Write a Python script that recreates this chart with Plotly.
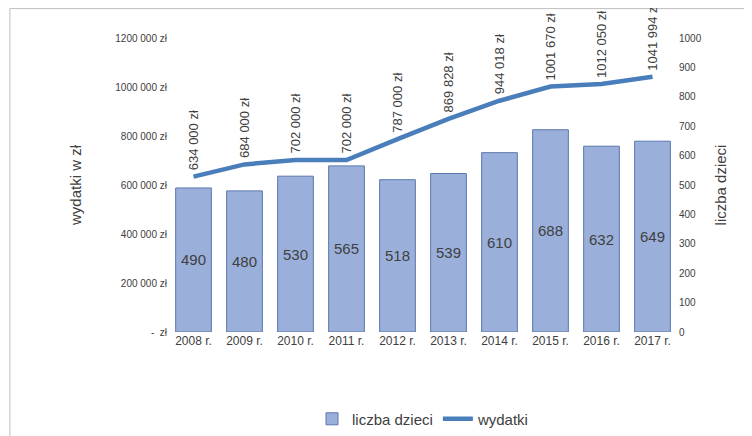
import plotly.graph_objects as go

years = ["2008 r.", "2009 r.", "2010 r.", "2011 r.", "2012 r.", "2013 r.", "2014 r.", "2015 r.", "2016 r.", "2017 r."]
children = [490, 480, 530, 565, 518, 539, 610, 688, 632, 649]
spend = [634000, 684000, 702000, 702000, 787000, 869828, 944018, 1001670, 1012050, 1041994]
spend_labels = ["634 000 zł", "684 000 zł", "702 000 zł", "702 000 zł", "787 000 zł", "869 828 zł",
                "944 018 zł", "1001 670 zł", "1012 050 zł", "1041 994 zł"]
left_ticks = [0, 200000, 400000, 600000, 800000, 1000000, 1200000]
left_text = ["-  zł", "200 000 zł", "400 000 zł", "600 000 zł", "800 000 zł", "1000 000 zł", "1200 000 zł"]
right_ticks = list(range(0, 1001, 100))

fig = go.Figure()
fig.add_trace(go.Bar(x=years, y=children, name="liczba dzieci", yaxis="y2",
                     marker=dict(color="#9AB0DA", line=dict(color="#5A77AE", width=1)),
                     text=[str(c) for c in children], textposition="inside", insidetextanchor="middle",
                     textfont=dict(size=15, color="#404040"), width=0.7))
fig.add_trace(go.Scatter(x=years, y=spend, name="wydatki", mode="lines",
                         line=dict(color="#4A7EBB", width=4.5)))
for x, y, t in zip(years, spend, spend_labels):
    fig.add_annotation(x=x, y=y, text=t, textangle=-90, showarrow=False, yanchor="bottom",
                       yshift=4, font=dict(size=13, color="#404040"))

fig.update_layout(
    width=752, height=436, paper_bgcolor="white", plot_bgcolor="white",
    margin=dict(l=160, r=82, t=30, b=112, autoexpand=False),
    font=dict(family="Liberation Sans, Arial", color="#404040"),
    bargap=0.3,
    xaxis=dict(tickfont=dict(size=12), showline=False, ticks=""),
    yaxis=dict(range=[0, 1200000], tickvals=left_ticks, ticktext=left_text, showgrid=False,
               tickfont=dict(size=10), title=dict(text="wydatki w zł", font=dict(size=15), standoff=30), zeroline=False),
    yaxis2=dict(range=[0, 1000], tickvals=right_ticks, overlaying="y", side="right", showgrid=False,
                tickfont=dict(size=10), title=dict(text="liczba dzieci", font=dict(size=15), standoff=14), zeroline=False),
    legend=dict(orientation="h", x=0.5, xanchor="center", y=-0.24, yanchor="top", font=dict(size=15)),
    shapes=[dict(type="rect", xref="paper", yref="paper", x0=-0.31, x1=1.16, y0=-0.37, y1=1.1,
                 line=dict(color="#BFBFBF", width=1))],
)
fig.write_html("out.html")
